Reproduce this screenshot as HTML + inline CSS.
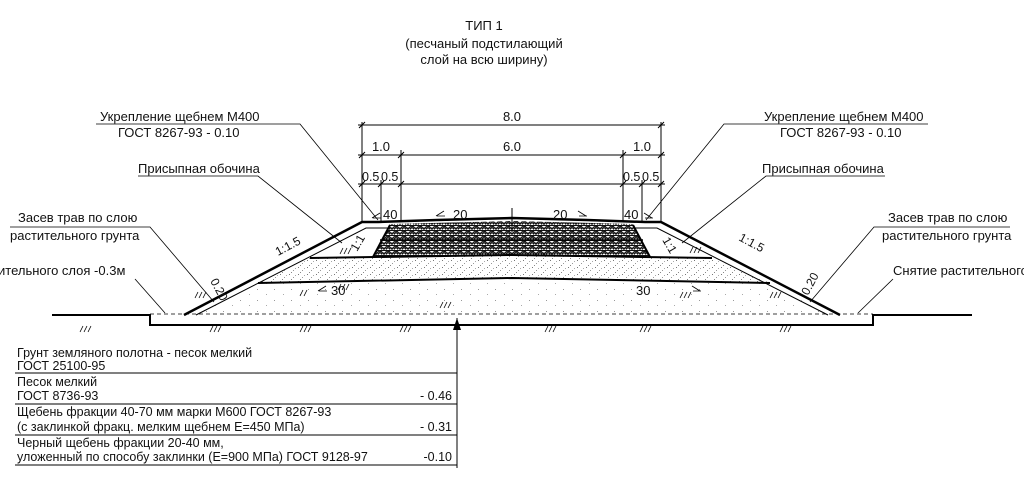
<!DOCTYPE html>
<html><head><meta charset="utf-8"><style>
html,body{margin:0;padding:0;background:#fff}
svg{display:block}
text{font-family:"Liberation Sans",sans-serif;fill:#111}
</style></head><body>
<svg width="1024" height="490" viewBox="0 0 1024 490" xmlns="http://www.w3.org/2000/svg">
<defs>
<pattern id="dots" width="9" height="7" patternUnits="userSpaceOnUse">
<rect x="1" y="1" width="1" height="1" fill="#777"/><rect x="5" y="4" width="1" height="1" fill="#999"/><rect x="7" y="2" width="1" height="1" fill="#aaa"/><rect x="3" y="6" width="1" height="1" fill="#888"/>
</pattern>
<pattern id="sparse" width="17" height="11" patternUnits="userSpaceOnUse">
<rect x="2" y="3" width="1" height="1" fill="#999"/><rect x="11" y="8" width="1" height="1" fill="#aaa"/>
</pattern>
<pattern id="stone" width="8" height="5" patternUnits="userSpaceOnUse">
<rect width="8" height="5" fill="#fff"/>
<path d="M0 4.5 L3 0.5 L6 4.5 M2 4.5 L5 1 L8 4.5 M0 0.5 L8 0.5 M0 3 L8 3" stroke="#111" stroke-width="1.1" fill="none"/>
</pattern>
</defs>

<!-- title -->
<text x="484" y="30" font-size="13" text-anchor="middle">ТИП 1</text>
<text x="484" y="48" font-size="13" text-anchor="middle">(песчаный подстилающий</text>
<text x="484" y="64" font-size="13" text-anchor="middle">слой на всю ширину)</text>

<!-- fills -->
<polygon points="196,315 258,283 512,278 770,283 828,315" fill="url(#sparse)"/>
<polygon points="258,283 310,258 512,255 712,258 770,283 512,278" fill="url(#dots)"/>
<polygon points="373,257 390,224 512,221 633,224 650,257 512,254" fill="url(#stone)"/>

<g stroke="#000" fill="none">
<!-- ground -->
<path d="M52 315 H150 V325 H873 V315 H972" stroke-width="2"/>
<line x1="150" y1="314" x2="873" y2="314" stroke-width="0.8" stroke-dasharray="4,3"/>
<!-- embankment outer -->
<path d="M184 315 L362 222 H378 L437 220 L512 218 L587 220 L645 222 H661 L840 315" stroke-width="2.5"/>
<path d="M196 315 L366 228 H388" stroke-width="1"/>
<path d="M828 315 L657 228 H635" stroke-width="1"/>
<!-- layer lines -->
<path d="M373 257 L390 225" stroke-width="2"/>
<path d="M650 257 L633 225" stroke-width="2"/>
<path d="M310 258 L512 255 L712 258" stroke-width="2"/>
<path d="M258 283 L512 278 L770 283" stroke-width="2"/>
<path d="M380 240 L643 240" stroke-width="1.5"/>
<!-- dims -->
<g stroke-width="1">
<line x1="362" y1="122" x2="362" y2="222"/><line x1="661" y1="122" x2="661" y2="222"/>
<line x1="401" y1="150" x2="401" y2="222"/><line x1="623" y1="150" x2="623" y2="222"/>
<line x1="381" y1="180" x2="381" y2="222"/><line x1="642" y1="180" x2="642" y2="222"/>
<line x1="358" y1="125" x2="665" y2="125"/>
<line x1="358" y1="155" x2="665" y2="155"/>
<line x1="358" y1="184" x2="665" y2="184"/>
<path d="M359 128 l6 -6 M658 128 l6 -6 M359 158 l6 -6 M398 158 l6 -6 M620 158 l6 -6 M658 158 l6 -6 M359 187 l6 -6 M378 187 l6 -6 M398 187 l6 -6 M620 187 l6 -6 M639 187 l6 -6 M658 187 l6 -6"/>
<line x1="512" y1="208" x2="512" y2="232"/>
<line x1="457" y1="318" x2="457" y2="468"/>
</g>
<!-- leaders -->
<g stroke-width="0.8">
<path d="M96 124 H300 L378 220"/>
<path d="M928 124 H724 L646 220"/>
<path d="M138 176 H258 L342 243"/>
<path d="M885 176 H766 L682 243"/>
<path d="M10 227 H150 L214 302"/>
<path d="M1010 227 H874 L810 302"/>
<path d="M135 279 L165 313"/>
<path d="M893 279 L858 313"/>
</g>
<!-- hatch marks -->
<g stroke-width="0.8">
<path d="M80 332 l3 -6 M84 332 l3 -6 M88 332 l3 -6 M210 332 l3 -6 M214 332 l3 -6 M218 332 l3 -6 M300 332 l3 -6 M304 332 l3 -6 M308 332 l3 -6 M400 332 l3 -6 M404 332 l3 -6 M408 332 l3 -6 M545 332 l3 -6 M549 332 l3 -6 M553 332 l3 -6 M640 332 l3 -6 M644 332 l3 -6 M648 332 l3 -6 M780 332 l3 -6 M784 332 l3 -6 M788 332 l3 -6"/>
<path d="M195 298 l3 -6 M199 298 l3 -6 M203 298 l3 -6 M300 296 l3 -6 M304 296 l3 -6 M338 290 l3 -6 M342 290 l3 -6 M346 290 l3 -6 M340 254 l3 -6 M344 254 l3 -6 M348 254 l3 -6 M440 308 l3 -6 M444 308 l3 -6 M448 308 l3 -6 M680 298 l3 -6 M684 298 l3 -6 M688 298 l3 -6 M690 253 l3 -6 M694 253 l3 -6 M698 253 l3 -6 M770 298 l3 -6 M774 298 l3 -6 M778 298 l3 -6"/>
<path d="M436 216 l8 -5 M437 216 h8 M586 216 l-8 -5 M587 216 h-8 M318 291 l8 -5 M319 291 h8 M700 291 l-8 -5 M701 291 h-8 M372 218 l8 -5 M373 218 h8 M652 218 l-8 -5 M653 218 h-8"/>
</g>
<!-- table -->
<g stroke-width="1">
<line x1="15" y1="373" x2="457" y2="373"/>
<line x1="15" y1="404" x2="457" y2="404"/>
<line x1="15" y1="435" x2="457" y2="435"/>
<line x1="15" y1="465" x2="457" y2="465"/>
</g>
</g>
<polygon points="457,318 453,330 461,330" fill="#000"/>

<!-- labels -->
<g font-size="13">
<text x="512" y="121" text-anchor="middle">8.0</text>
<text x="512" y="151" text-anchor="middle">6.0</text>
<text x="381" y="151" text-anchor="middle">1.0</text>
<text x="642" y="151" text-anchor="middle">1.0</text>
<text x="362" y="181" font-size="12.5">0.5</text><text x="381" y="181" font-size="12.5">0.5</text>
<text x="623" y="181" font-size="12.5">0.5</text><text x="642" y="181" font-size="12.5">0.5</text>
<text x="383" y="219">40</text><text x="624" y="219">40</text>
<text x="453" y="219">20</text><text x="553" y="219">20</text>
<text x="331" y="295">30</text><text x="636" y="295">30</text>
<text x="100" y="121">Укрепление щебнем М400</text>
<text x="118" y="137">ГОСТ 8267-93  -  0.10</text>
<text x="764" y="121">Укрепление щебнем М400</text>
<text x="780" y="137">ГОСТ 8267-93  -  0.10</text>
<text x="138" y="173">Присыпная обочина</text>
<text x="762" y="173">Присыпная обочина</text>
<text x="18" y="222">Засев трав по слою</text>
<text x="10" y="240">растительного грунта</text>
<text x="888" y="222">Засев трав по слою</text>
<text x="882" y="240">растительного грунта</text>
<text x="-2" y="275">ительного слоя -0.3м</text>
<text x="893" y="275">Снятие растительного</text>
<text x="0" y="0" font-size="12" transform="translate(278,256) rotate(-28)">1:1.5</text>
<text x="0" y="0" font-size="12" transform="translate(738,240) rotate(28)">1:1.5</text>
<text x="0" y="0" font-size="12" transform="translate(357,252) rotate(-60)">1:1</text>
<text x="0" y="0" font-size="12" transform="translate(662,240) rotate(60)">1:1</text>
<text x="0" y="0" font-size="12" transform="translate(210,281) rotate(62)">0.20</text>
<text x="0" y="0" font-size="12" transform="translate(808,296) rotate(-62)">0.20</text>
</g>
<g font-size="12.5">
<text x="17" y="357">Грунт земляного полотна - песок мелкий</text>
<text x="17" y="370">ГОСТ 25100-95</text>
<text x="17" y="386">Песок мелкий</text>
<text x="17" y="400">ГОСТ 8736-93</text>
<text x="452" y="400" text-anchor="end">- 0.46</text>
<text x="17" y="416">Щебень фракции 40-70 мм марки М600 ГОСТ 8267-93</text>
<text x="17" y="431">(с заклинкой фракц. мелким щебнем Е=450 МПа)</text>
<text x="452" y="431" text-anchor="end">- 0.31</text>
<text x="17" y="447">Черный щебень фракции 20-40 мм,</text>
<text x="17" y="461">уложенный по способу заклинки (Е=900 МПа) ГОСТ 9128-97</text>
<text x="452" y="461" text-anchor="end">-0.10</text>
</g>
</svg>
</body></html>
